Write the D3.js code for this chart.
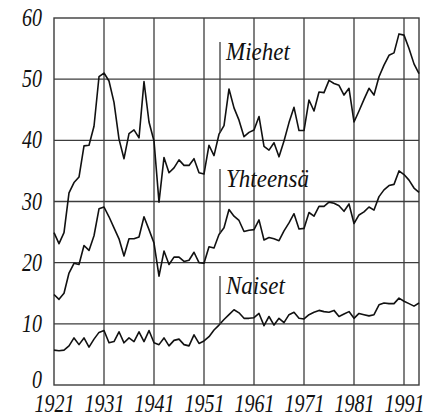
<!DOCTYPE html>
<html>
<head>
    <title>Miehet, Naiset, Yhteensä</title>
    <script src="https://d3js.org/d3.v7.min.js"></script>
    <style>
        body { margin: 0; background: #fff; }
        svg { display: block; }
    </style>
</head>
<body>
    <svg id="chart"></svg>
    <script>
        // data, one value per year starting 1921
        const firstYear = 1921;
        const tickYears = [1921, 1931, 1941, 1951, 1961, 1971, 1981, 1991];
        const yTicks = [0, 10, 20, 30, 40, 50, 60];

        const miehet = [
            24.9, 23.1, 24.9, 31.4, 33.1, 34.0, 39.1, 39.2, 42.3, 50.4,
            51.0, 49.7, 46.2, 40.2, 37.0, 41.1, 41.7, 40.4, 49.6, 43.0,
            39.9, 29.9, 37.2, 34.7, 35.5, 36.8, 35.9, 35.9, 37.0, 34.7,
            34.5, 39.2, 37.5, 41.0, 42.4, 48.4, 45.3, 43.3, 40.6, 41.3,
            41.7, 43.9, 39.0, 38.4, 39.6, 37.3, 39.9, 42.9, 45.4, 41.6,
            41.6, 46.6, 44.8, 47.9, 47.8, 49.8, 49.3, 49.0, 47.4, 48.5,
            43.0, 44.8, 46.7, 48.5, 47.4, 50.4, 52.3, 53.9, 54.3, 57.4,
            57.2, 55.0, 52.5, 50.9
        ];
        const yhteensa = [
            14.8, 14.0, 15.0, 18.3, 19.9, 19.7, 22.8, 22.0, 24.4, 28.8,
            29.1, 27.5, 25.7, 23.9, 21.1, 23.9, 23.9, 24.2, 27.5, 25.4,
            23.2, 17.8, 21.9, 19.7, 20.9, 20.9, 20.2, 20.4, 21.7, 20.0,
            19.9, 22.6, 22.4, 24.6, 25.7, 28.7, 27.6, 26.9, 25.1, 25.3,
            25.4, 27.0, 23.7, 24.1, 23.9, 23.6, 25.2, 26.5, 28.0, 25.5,
            25.6, 28.2, 27.6, 29.2, 29.2, 29.9, 29.7, 29.3, 28.4, 29.6,
            26.4, 27.8, 28.3, 29.1, 28.6, 30.8, 31.9, 32.6, 32.8, 35.0,
            34.4, 33.5, 32.2, 31.5
        ];
        const naiset = [
            5.7, 5.6, 5.7, 6.4, 7.7, 6.6, 7.7, 6.2, 7.5, 8.6,
            8.9, 6.9, 7.1, 8.7, 6.9, 7.7, 7.1, 8.7, 7.1, 8.9,
            6.9, 6.6, 7.7, 6.4, 7.3, 7.5, 6.6, 6.4, 8.2, 6.8,
            7.2, 7.9, 9.0, 9.8, 10.7, 11.5, 12.3, 11.8, 10.9, 10.9,
            11.0, 11.7, 9.7, 11.2, 9.8, 10.9, 10.2, 11.5, 11.9, 10.9,
            10.8, 11.5, 11.9, 12.2, 12.0, 11.9, 12.2, 11.2, 11.6, 12.0,
            10.9, 11.7, 11.5, 11.3, 11.5, 13.1, 13.4, 13.3, 13.3, 14.2,
            13.7, 13.3, 12.9, 13.4
        ];

        const seriesNames = ["Miehet", "Yhteensä", "Naiset"];
        const series = [miehet, yhteensa, naiset];
        const labelYear = 1954.2;

        const width = 428, height = 418;
        const margin = {top: 18, right: 9, bottom: 33, left: 54};
        const plotW = width - margin.left - margin.right;
        const plotH = height - margin.top - margin.bottom;
        const serif = '"Liberation Serif", serif';

        const svg = d3.select("#chart")
            .attr("width", width)
            .attr("height", height);

        const x = d3.scaleLinear().domain([1921, 1994]).range([0, plotW]);
        const y = d3.scaleLinear().domain([0, 60]).range([plotH, 0]);

        const g = svg.append("g").attr("transform", `translate(${margin.left},${margin.top})`);
        const gridColor = "#3c3c3c";

        // grid
        g.selectAll(".vgrid").data(tickYears.slice(1)).join("line")
            .attr("x1", d => x(d)).attr("x2", d => x(d))
            .attr("y1", 0).attr("y2", plotH)
            .attr("stroke", gridColor).attr("stroke-width", 1.3);
        g.selectAll(".hgrid").data(yTicks.slice(1, -1)).join("line")
            .attr("x1", 0).attr("x2", plotW)
            .attr("y1", d => y(d)).attr("y2", d => y(d))
            .attr("stroke", gridColor).attr("stroke-width", 1.3);
        g.append("rect")
            .attr("width", plotW).attr("height", plotH)
            .attr("fill", "none").attr("stroke", gridColor).attr("stroke-width", 1.4);

        // axes, labels only
        const xAxis = g.append("g")
            .attr("transform", `translate(0,${plotH})`)
            .call(d3.axisBottom(x).tickValues(tickYears).tickFormat(d3.format("d")).tickSize(0));
        const yAxis = g.append("g")
            .call(d3.axisLeft(y).tickValues(yTicks).tickSize(0));
        [xAxis, yAxis].forEach(a => {
            a.attr("font-family", null).attr("font-size", null);
            a.select(".domain").remove();
            a.selectAll("text")
                .attr("fill", "#111")
                .style("font-family", serif)
                .style("font-style", "italic")
                .style("font-size", "25px")
                .attr("transform", "scale(0.8,1)");
        });
        xAxis.selectAll("text").attr("y", 27).attr("dy", null);
        yAxis.selectAll("text").attr("x", -15).attr("dy", "0.3em");
        // the 0 label sits a little higher in the original
        yAxis.selectAll("text").filter(d => d === 0).attr("y", -5);

        // lines
        const line = d3.line()
            .x((d, i) => x(firstYear + i))
            .y(d => y(d));
        g.selectAll(".series").data(series).join("path")
            .attr("d", line)
            .attr("fill", "none")
            .attr("stroke", "#111")
            .attr("stroke-width", 1.6)
            .attr("stroke-linejoin", "round");

        // labels with leader ticks
        const labelTops = [42, 169, 276];
        series.forEach((s, k) => {
            const i = Math.floor(labelYear - firstYear);
            const t = labelYear - firstYear - i;
            const v = s[i] * (1 - t) + s[i + 1] * t;
            const ty = labelTops[k] - margin.top;
            g.append("line")
                .attr("x1", x(labelYear)).attr("x2", x(labelYear))
                .attr("y1", ty).attr("y2", y(v))
                .attr("stroke", gridColor).attr("stroke-width", 1.3);
            g.append("text")
                .attr("transform", `translate(${x(labelYear) + 6},${ty + 18}) scale(0.92,1)`)
                .attr("fill", "#111")
                .style("font-family", serif)
                .style("font-style", "italic")
                .style("font-size", "25px")
                .text(seriesNames[k]);
        });
    </script>
</body>
</html>
